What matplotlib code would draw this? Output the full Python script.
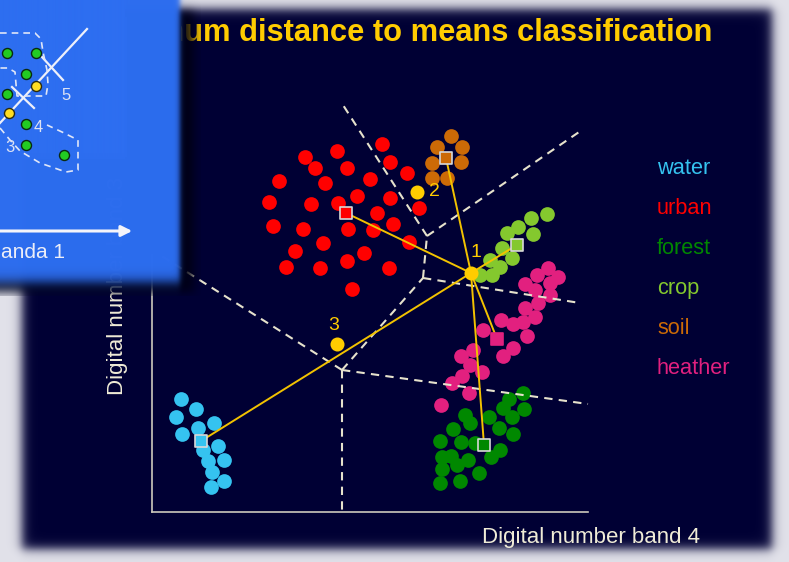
import numpy as np
import matplotlib.pyplot as plt
from matplotlib.patches import Rectangle

W_PX, H_PX = 789, 562

# ---- data: digital numbers (band 4 on x, band 3 on y) ----
classes = ['water', 'urban', 'forest', 'crop', 'soil', 'heather']
colors = ['#35c3f0', '#ff0000', '#008800', '#84c82e', '#cc6a06', '#e2207f']

water_x = [29, 44, 24, 62, 46, 30, 66, 51, 72, 56, 60, 72, 59]
water_y = [113, 103, 95, 89, 84, 78, 66, 62, 52, 51, 40, 31, 25]

urban_x = [230, 185, 153, 163, 195, 238, 255, 127, 173, 218, 117, 159, 186, 205, 238, 267,
           225, 121, 151, 196, 221, 241, 171, 212, 257, 143, 195, 134, 168, 237, 200]
urban_y = [368, 361, 355, 344, 344, 350, 339, 331, 329, 333, 310, 308, 309, 316, 314, 304,
           299, 286, 283, 283, 282, 288, 269, 259, 270, 261, 251, 245, 244, 244, 223]

forest_x = [371, 357, 351, 372, 360, 313, 337, 318, 301, 347, 361, 288, 309, 323, 348, 339,
            290, 299, 316, 305, 290, 327, 288, 308]
forest_y = [119, 113, 104, 103, 95, 97, 95, 89, 83, 84, 78, 71, 70, 69, 62, 55,
            55, 56, 52, 47, 43, 39, 29, 31]

crop_x = [395, 379, 366, 355, 381, 350, 360, 338, 348, 328, 340]
crop_y = [298, 294, 285, 279, 278, 264, 254, 252, 245, 237, 237]

soil_x = [299, 285, 310, 280, 309, 280, 295]
soil_y = [376, 365, 365, 349, 350, 334, 334]

heather_x = [396, 385, 406, 398, 373, 383, 398, 386, 373, 383, 349, 361, 371, 331, 375,
             361, 351, 321, 309, 318, 330, 310, 300, 317, 289]
heather_y = [244, 237, 235, 229, 228, 222, 217, 209, 204, 195, 192, 188, 190, 182, 176,
             164, 156, 162, 156, 147, 140, 136, 129, 119, 107]

means_x = [49, 194, 332, 365, 294, 345]
means_y = [71, 299, 67, 267, 354, 173]

unknown_x = [319, 265, 185]
unknown_y = [239, 320, 168]
unknown_labels = ['1', '2', '3']

# decision boundaries (vertices joined as segments)
bound_segments = [
    [(190, 142), (190, 0)],
    [(190, 142), (8, 257)],
    [(190, 142), (436, 108)],
    [(190, 142), (271, 234)],
    [(271, 234), (428, 209)],
    [(271, 234), (275, 276)],
    [(275, 276), (430, 382)],
    [(275, 276), (191, 407)],
]

# small inset picture (pixel units of the inset)
inset_green_x = [7, 36, 26, 7, 26, 26, 64]
inset_green_y = [53, 53, 74, 94, 124, 145, 155]
inset_yellow_x = [36, 9]
inset_yellow_y = [86, 113]
inset_num = ['5', '4', '3']
inset_num_x = [66, 38, 10]
inset_num_y = [96, 127, 147]

xs = [water_x, urban_x, forest_x, crop_x, soil_x, heather_x]
ys = [water_y, urban_y, forest_y, crop_y, soil_y, heather_y]

plt.rcParams['font.family'] = ['Liberation Sans', 'DejaVu Sans']
fig = plt.figure(figsize=(7.89, 5.62), dpi=100)


def ramp(d, w):
    return 1.0 / (1.0 + np.exp(-d / w))


# ---- slide background ----
bg = fig.add_axes([0, 0, 1, 1])
bg.set_zorder(0)
bg.set_xlim(0, W_PX)
bg.set_ylim(H_PX, 0)
bg.axis('off')
yy, xx = np.mgrid[0:H_PX, 0:W_PX] + 0.5
inside = ramp(xx - 22, 3) * ramp(772 - xx, 3) * ramp(yy - 9, 3) * ramp(549 - yy, 3)
navy = np.array([0, 0, 52]) / 255
light = np.array([226, 226, 234]) / 255
img = light * (1 - inside[..., None]) + navy * inside[..., None]
bg.imshow(img, extent=(0, W_PX, H_PX, 0), aspect='auto', interpolation='bilinear')

title = bg.text(712, 33, 'Minimum distance to means classification', ha='right',
                va='center', fontsize=22.2, fontweight='bold', color='#ffcc00', clip_on=True)
# the start of the title sits under the inset slide
title.set_clip_path(Rectangle((181, 0), 608, 80, transform=bg.transData))
bg.text(700, 537, 'Digital number band 4', ha='right', va='center',
        fontsize=16, color='#efebd6')
bg.text(118, 395, 'Digital number band 3', ha='center', va='bottom', rotation=90,
        fontsize=16, color='#efebd6')
for i, (name, c) in enumerate(zip(classes, colors)):
    bg.text(657, 168 + i * 40.2, name, ha='left', va='center', fontsize=15.7, color=c)

# ---- main scatter ----
ax = fig.add_axes([152 / W_PX, 50 / H_PX, 620 / W_PX, 420 / H_PX])
ax.set_zorder(1)
ax.patch.set_visible(False)
ax.set_xlim(0, 620)
ax.set_ylim(0, 420)
ax.set_xticks([])
ax.set_yticks([])
for s in ['top', 'right']:
    ax.spines[s].set_visible(False)
for s in ['left', 'bottom']:
    ax.spines[s].set_color('#cdc9bc')
    ax.spines[s].set_linewidth(1.2)
ax.spines['left'].set_bounds(0, 257)
ax.spines['bottom'].set_bounds(0, 436)

for x, y, c in zip(xs, ys, colors):
    ax.scatter(x, y, s=112, color=c, linewidths=0, zorder=2)

for seg in bound_segments:
    (x0, y0), (x1, y1) = seg
    ax.plot([x0, x1], [y0, y1], color='#e6e2cc', lw=1.5, ls=(0, (4, 3)), zorder=3)

for mx, my in zip(means_x, means_y):
    ax.plot([unknown_x[0], mx], [unknown_y[0], my], color='#f2c200', lw=1.4, zorder=4)

edge = ['#d8d8d8'] * 5 + [colors[5]]
ax.scatter(means_x, means_y, marker='s', s=63, color=colors, edgecolors=edge,
           linewidths=1.2, zorder=5)

ax.scatter(unknown_x, unknown_y, s=102, color='#ffcc00', linewidths=0, zorder=6)
offsets = [(5, 20), (17, 0), (-3, 18)]
for x, y, lab, off in zip(unknown_x, unknown_y, unknown_labels, offsets):
    ax.annotate(lab, (x, y), xytext=(off[0] * 0.72, off[1] * 0.72), textcoords='offset points',
                ha='center', va='center', fontsize=14, color='#ffcc00', zorder=6)

# ---- inset slide (top left) ----
ins = fig.add_axes([0, 1 - 296 / H_PX, 200 / W_PX, 296 / H_PX])
ins.set_zorder(10)
ins.set_xlim(0, 200)
ins.set_ylim(296, 0)
ins.axis('off')
iy, ix = np.mgrid[0:296, 0:200] + 0.5
blue_a = ramp(179 - ix, 1.5) * ramp(282 - iy, 3.5)
shadow_a = 0.9 * ramp(193 - ix, 3) * ramp(292 - iy, 3) * ramp(iy - 12, 3) * (1 - blue_a)
alpha = np.clip(blue_a + shadow_a, 1e-6, 1)
blue = np.array([45, 110, 240]) / 255
dark = np.array([0, 0, 18]) / 255
rgb = (blue * blue_a[..., None] + dark * shadow_a[..., None]) / alpha[..., None]
ins.imshow(np.dstack([rgb, alpha]), extent=(0, 200, 296, 0), aspect='auto',
           interpolation='bilinear')

ins.plot([87, 0], [29, 123], color='#eef0fa', lw=1.6)
ins.plot([42, 63], [57, 80], color='#eef0fa', lw=1.6)
ins.plot([12, 34], [87, 108], color='#eef0fa', lw=1.6)
top_outline = [(0, 33), (35, 33), (41, 39), (43, 52), (47, 70), (48, 84), (46, 96),
               (17, 96), (15, 72), (8, 68), (0, 68)]
bottom_outline = [(0, 128), (10, 140), (20, 151), (40, 163), (66, 172), (78, 170),
                  (78, 140), (62, 132), (47, 125)]
for outline in [top_outline, bottom_outline]:
    ox, oy = zip(*outline)
    ins.plot(ox, oy, color='#dfe6f8', lw=1.2, ls=(0, (4, 3)))
ins.scatter(inset_green_x, inset_green_y, s=52, color='#22cc22', edgecolors='#0a2a10',
            linewidths=1, zorder=3)
ins.scatter(inset_yellow_x, inset_yellow_y, s=52, color='#ffdd22', edgecolors='#2a2a10',
            linewidths=1, zorder=3)
for t, x, y in zip(inset_num, inset_num_x, inset_num_y):
    ins.text(x, y, t, ha='center', va='center', fontsize=12, color='#dde2f4')
ins.annotate('', xy=(135, 231), xytext=(-5, 231),
             arrowprops=dict(arrowstyle='-|>', color='#f4f4fa', lw=2.2, mutation_scale=16))
ins.text(1, 253, 'anda 1', ha='left', va='center', fontsize=15, color='#eceef8')

fig.savefig('out.png', dpi=100)
